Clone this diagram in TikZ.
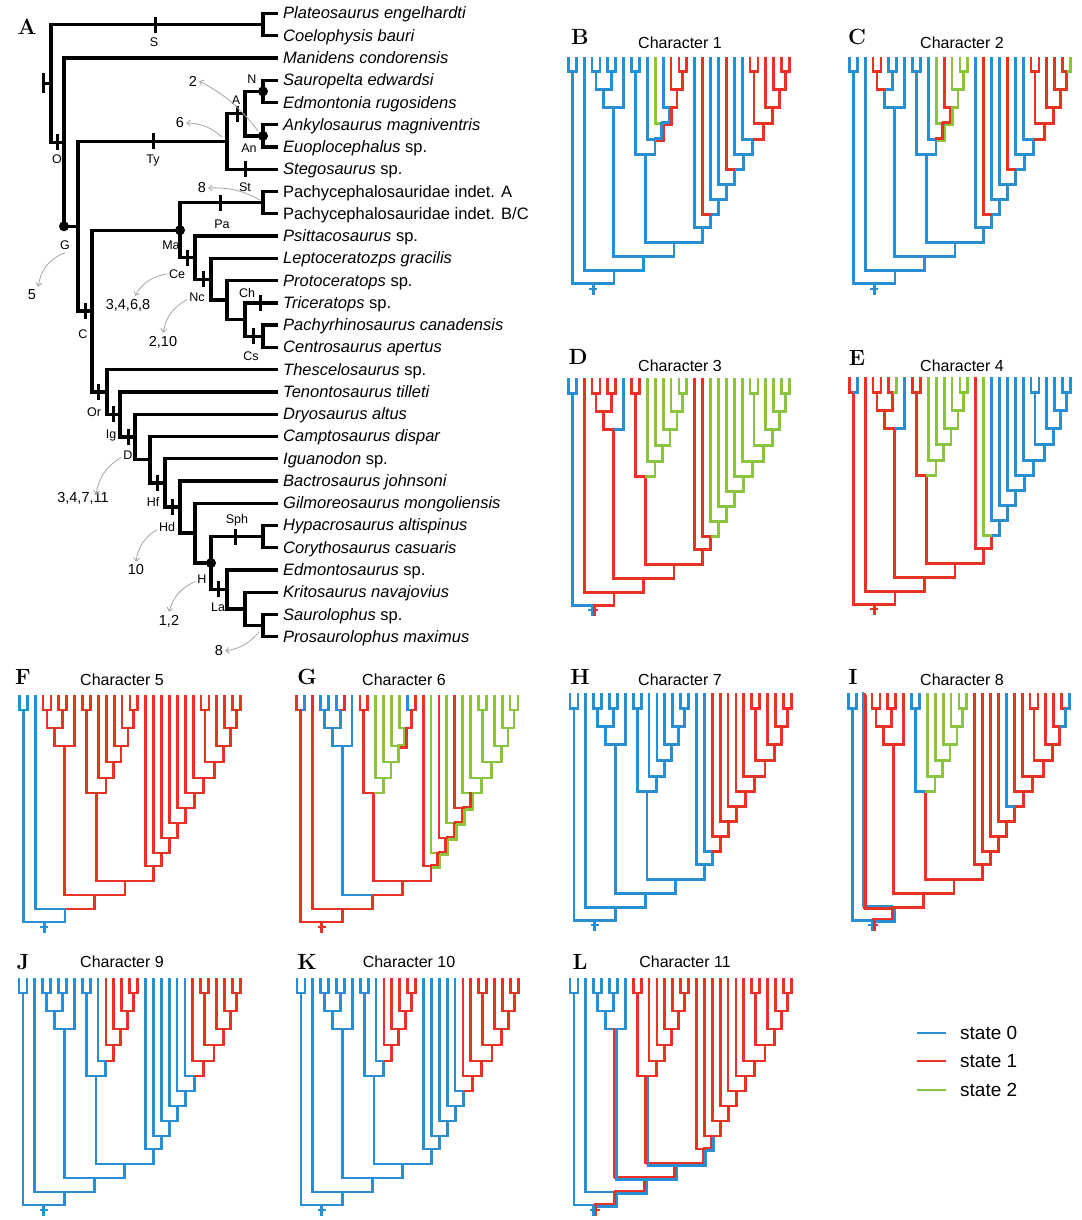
\documentclass[tikz,border=0pt]{standalone}
\usepackage{fontspec}
\newfontfamily\lsans{Liberation Sans}
\usetikzlibrary{arrows.meta}
\definecolor{cbl}{RGB}{41,143,211}
\definecolor{crd}{RGB}{232,50,38}
\definecolor{cgr}{RGB}{139,196,63}
\definecolor{agray}{RGB}{165,165,165}
\tikzset{
 tl/.style={line width=2.8pt},
 cb/.style={draw=cbl}, cr/.style={draw=crd}, cg/.style={draw=cgr},
 ta/.style={line width=3.3pt, draw=black},
 tick/.style={line width=3pt, draw=black},
 taxon/.style={anchor=base west, inner sep=0pt, font=\lsans\fontsize{16.5}{18}\selectfont},
 clab/.style={inner sep=0pt, font=\lsans\fontsize{12.5}{13}\selectfont},
 num/.style={inner sep=0pt, font=\lsans\fontsize{14.5}{15}\selectfont},
 ann/.style={draw=agray, line width=0.8pt, -{Straight Barb[length=3.5pt,width=6pt]}},
 plet/.style={inner sep=0pt, font=\bfseries\fontsize{22}{22}\selectfont},
 ctitle/.style={inner sep=0pt, font=\lsans\fontsize{16}{17}\selectfont},
 dotn/.style={circle, fill=black, inner sep=0pt, minimum size=10pt},
 legt/.style={anchor=west, inner sep=0pt, font=\lsans\fontsize{19}{20}\selectfont},
}
\def\defn#1#2#3#4{\expandafter\def\csname zU#1\endcsname{#2}\expandafter\def\csname zD#1\endcsname{#3}\expandafter\def\csname zP#1\endcsname{#4}}
\defn{t1}{1}{0}{Sa}\defn{t2}{2}{0}{Sa}\defn{t3}{3}{0}{O}\defn{t4}{4}{0}{Nod}\defn{t5}{5}{0}{Nod}
\defn{t6}{6}{0}{Ank}\defn{t7}{7}{0}{Ank}\defn{t8}{8}{0}{Ty}\defn{t9}{9}{0}{Pa}\defn{t10}{10}{0}{Pa}
\defn{t11}{11}{0}{Ce}\defn{t12}{12}{0}{Nc}\defn{t13}{13}{0}{Cx}\defn{t14}{14}{0}{Ch}\defn{t15}{15}{0}{Cs}
\defn{t16}{16}{0}{Cs}\defn{t17}{17}{0}{Or}\defn{t18}{18}{0}{Ig}\defn{t19}{19}{0}{D}\defn{t20}{20}{0}{Ne}
\defn{t21}{21}{0}{Hf}\defn{t22}{22}{0}{Hd}\defn{t23}{23}{0}{Gi}\defn{t24}{24}{0}{Lam}\defn{t25}{25}{0}{Lam}
\defn{t26}{26}{0}{La}\defn{t27}{27}{0}{K}\defn{t28}{28}{0}{Sl}\defn{t29}{29}{0}{Sl}
\defn{Sa}{1.5}{15}{R}\defn{O}{6.78}{214}{R}\defn{G}{10.5599}{200}{O}\defn{Ty}{6.75}{51}{G}
\defn{C}{14.3699}{186}{G}\defn{Anky}{5.5}{33}{Ty}\defn{Nod}{4.5}{15}{Anky}\defn{Ank}{6.5}{15}{Anky}
\defn{Ma}{10.7344}{98}{C}\defn{Or}{18.0054}{171}{C}\defn{Pa}{9.5}{15}{Ma}\defn{Ce}{11.9688}{83}{Ma}
\defn{Nc}{12.9375}{67}{Ce}\defn{Cx}{13.875}{51}{Nc}\defn{Ch}{14.75}{33}{Cx}\defn{Cs}{15.5}{15}{Ch}
\defn{Ig}{19.0107}{158}{Or}\defn{D}{20.0215}{143}{Ig}\defn{Ne}{21.043}{128}{D}\defn{Hf}{22.0859}{113}{Ne}
\defn{Hd}{23.1719}{98}{Hf}\defn{Gi}{24.3438}{83}{Hd}\defn{H}{25.6875}{67}{Gi}\defn{Lam}{24.5}{15}{H}
\defn{La}{26.875}{51}{H}\defn{K}{27.75}{33}{La}\defn{Sl}{28.5}{15}{K}\defn{R}{4.14}{227}{R}
\def\alledges{t1,t2,t3,t4,t5,t6,t7,t8,t9,t10,t11,t12,t13,t14,t15,t16,t17,t18,t19,t20,t21,t22,t23,t24,t25,t26,t27,t28,t29,Sa,O,G,Ty,C,Anky,Nod,Ank,Ma,Or,Pa,Ce,Nc,Cx,Ch,Cs,Ig,D,Ne,Hf,Hd,Gi,H,Lam,La,K,Sl}
\def\allnodes{t1,t2,t3,t4,t5,t6,t7,t8,t9,t10,t11,t12,t13,t14,t15,t16,t17,t18,t19,t20,t21,t22,t23,t24,t25,t26,t27,t28,t29,Sa,O,G,Ty,C,Anky,Nod,Ank,Ma,Or,Pa,Ce,Nc,Cx,Ch,Cs,Ig,D,Ne,Hf,Hd,Gi,H,Lam,La,K,Sl,R}
\def\CeSub{Ce,Nc,Cx,Ch,Cs,t11,t12,t13,t14,t15,t16}
\def\NcSub{Nc,Cx,Ch,Cs,t12,t13,t14,t15,t16}
\def\DSub{D,Ne,Hf,Hd,Gi,H,Lam,La,K,Sl,t19,t20,t21,t22,t23,t24,t25,t26,t27,t28,t29}
\def\HdSub{Hd,Gi,H,Lam,La,K,Sl,t22,t23,t24,t25,t26,t27,t28,t29}
\def\GiSub{Gi,H,Lam,La,K,Sl,t23,t24,t25,t26,t27,t28,t29}
\def\HSub{H,Lam,La,K,Sl,t24,t25,t26,t27,t28,t29}
\newcommand\br[3]{\edef\pp{\csname zP#2\endcsname}\draw[tl,#3] (#1-#2) |- (#1-\pp);}
\newcommand\panel[4]{%
  \foreach \n in \allnodes {\coordinate (#1-\n) at ({#2+7.9*(\csname zU\n\endcsname-1)},{#3+\csname zD\n\endcsname});}
  \foreach \e in \alledges {\br{#1}{\e}{#4}}}
\newcommand\paint[3]{\foreach \e in #2 {\br{#1}{\e}{#3}}}
\newcommand\dbl[4]{\edef\pp{\csname zP#2\endcsname}%
  \draw[tl,line width=2.5pt,#3,transform canvas={shift={(-1.25pt,1.25pt)}}] (#1-#2) |- (#1-\pp);
  \draw[tl,line width=2.5pt,#4,transform canvas={shift={(1.25pt,-1.25pt)}}] (#1-#2) |- (#1-\pp);}
\newcommand\dbls[4]{\foreach \e in #2 {\dbl{#1}{\e}{#3}{#4}}}
\newcommand\stub[2]{\draw[tl,#2] (#1-R) -- ++(0,11); \draw[tl,#2,line width=2pt] ([shift={(-4,5)}]#1-R) -- ++(8,0);}
\newcommand\dstub[3]{\draw[tl,line width=2.5pt,#2] ([xshift=-1.25pt]#1-R) -- ++(0,11); \draw[tl,line width=2.5pt,#3] ([xshift=1.25pt]#1-R) -- ++(0,11);
  \draw[tl,#2,line width=2pt] ([shift={(-5,5)}]#1-R) -- ++(5,0); \draw[tl,#3,line width=2pt] ([shift={(0,5)}]#1-R) -- ++(5,0);}
\newcommand\tk[3]{\coordinate (tk#1) at (A-#2 -| #3,0); \draw[tick] ([yshift=8pt]tk#1) -- ([yshift=-8pt]tk#1);}
\begin{document}
\begin{tikzpicture}[x=1pt,y=-1pt]
\useasboundingbox (0,0) rectangle (1081,1220);
% ================= Panel A =================
\foreach \n in \allnodes {\coordinate (A-\n) at ({278-\csname zD\n\endcsname},{13.5+22.26*(\csname zU\n\endcsname-1)});}
\foreach \e in \alledges {\edef\pp{\csname zP\e\endcsname}\draw[ta] (A-\e) -| (A-\pp);}
\coordinate (A-rs) at ([xshift=-8pt]A-R);
\draw[ta] (A-R) -- (A-rs);
\draw[tick] ([yshift=10pt]A-rs) -- ([yshift=-10pt]A-rs);
\node[dotn] (dG) at (A-G -| A-O) {};
\node[dotn] (dN) at (A-Nod) {};
\node[dotn] (dAn) at (A-Ank) {};
\node[dotn] (dMa) at (A-Ma) {};
\node[dotn] (dH) at (A-H) {};
\tk{S}{Sa}{155}\tk{O}{O}{57}\tk{Ty}{Ty}{153}\tk{A}{Anky}{237}\tk{St}{t8}{245}
\tk{Pa}{Pa}{220}\tk{Ce}{Ce}{187}\tk{Nc}{Nc}{203}\tk{Ch}{t14}{260}\tk{Cs}{Cs}{253}
\tk{C}{C}{85}\tk{Or}{Or}{98}\tk{Ig}{Ig}{113}\tk{D}{D}{128}\tk{Hf}{Hf}{157}\tk{Hd}{Hd}{172}
\tk{Sph}{Lam}{235}\tk{La}{La}{218}
% clade labels
\node[clab] (lS) at (154,42) {S};
\node[clab] (lO) at (57,159) {O};
\node[clab] (lG) at (65,245) {G};
\node[clab] (lTy) at (153,160) {Ty};
\node[clab] (lA) at (236,100) {A};
\node[clab] (lN) at (252,79) {N};
\node[clab] (lAn) at (249,148) {An};
\node[clab] (lSt) at (245,187) {St};
\node[clab] (lPa) at (222,224) {Pa};
\node[clab] (lMa) at (171,245) {Ma};
\node[clab] (lCe) at (177,274) {Ce};
\node[clab] (lNc) at (197,297) {Nc};
\node[clab] (lCh) at (247,293) {Ch};
\node[clab] (lCs) at (251,356) {Cs};
\node[clab] (lC) at (83,334) {C};
\node[clab] (lOr) at (94,412) {Or};
\node[clab] (lIg) at (111,435) {Ig};
\node[clab] (lD) at (128,455) {D};
\node[clab] (lHf) at (153,502) {Hf};
\node[clab] (lHd) at (167,527) {Hd};
\node[clab] (lSph) at (237,520) {Sph};
\node[clab] (lH) at (202,579) {H};
\node[clab] (lLa) at (218,607) {La};
% taxa
\node[taxon] (x1) at ([xshift=5pt,yshift=-5.5pt]A-t1) {\itshape Plateosaurus engelhardti};
\node[taxon] (x2) at ([xshift=5pt,yshift=-5.5pt]A-t2) {\itshape Coelophysis bauri};
\node[taxon] (x3) at ([xshift=5pt,yshift=-5.5pt]A-t3) {\itshape Manidens condorensis};
\node[taxon] (x4) at ([xshift=5pt,yshift=-5.5pt]A-t4) {\itshape Sauropelta edwardsi};
\node[taxon] (x5) at ([xshift=5pt,yshift=-5.5pt]A-t5) {\itshape Edmontonia rugosidens};
\node[taxon] (x6) at ([xshift=5pt,yshift=-5.5pt]A-t6) {\itshape Ankylosaurus magniventris};
\node[taxon] (x7) at ([xshift=5pt,yshift=-5.5pt]A-t7) {\textit{Euoplocephalus} sp.};
\node[taxon] (x8) at ([xshift=5pt,yshift=-5.5pt]A-t8) {\textit{Stegosaurus} sp.};
\node[taxon] (x9) at ([xshift=5pt,yshift=-5.5pt]A-t9) {Pachycephalosauridae indet. A};
\node[taxon] (x10) at ([xshift=5pt,yshift=-5.5pt]A-t10) {Pachycephalosauridae indet. B/C};
\node[taxon] (x11) at ([xshift=5pt,yshift=-5.5pt]A-t11) {\textit{Psittacosaurus} sp.};
\node[taxon] (x12) at ([xshift=5pt,yshift=-5.5pt]A-t12) {\itshape Leptoceratozps gracilis};
\node[taxon] (x13) at ([xshift=5pt,yshift=-5.5pt]A-t13) {\textit{Protoceratops} sp.};
\node[taxon] (x14) at ([xshift=5pt,yshift=-5.5pt]A-t14) {\textit{Triceratops} sp.};
\node[taxon] (x15) at ([xshift=5pt,yshift=-5.5pt]A-t15) {\itshape Pachyrhinosaurus canadensis};
\node[taxon] (x16) at ([xshift=5pt,yshift=-5.5pt]A-t16) {\itshape Centrosaurus apertus};
\node[taxon] (x17) at ([xshift=5pt,yshift=-5.5pt]A-t17) {\textit{Thescelosaurus} sp.};
\node[taxon] (x18) at ([xshift=5pt,yshift=-5.5pt]A-t18) {\itshape Tenontosaurus tilleti};
\node[taxon] (x19) at ([xshift=5pt,yshift=-5.5pt]A-t19) {\itshape Dryosaurus altus};
\node[taxon] (x20) at ([xshift=5pt,yshift=-5.5pt]A-t20) {\itshape Camptosaurus dispar};
\node[taxon] (x21) at ([xshift=5pt,yshift=-5.5pt]A-t21) {\textit{Iguanodon} sp.};
\node[taxon] (x22) at ([xshift=5pt,yshift=-5.5pt]A-t22) {\itshape Bactrosaurus johnsoni};
\node[taxon] (x23) at ([xshift=5pt,yshift=-5.5pt]A-t23) {\itshape Gilmoreosaurus mongoliensis};
\node[taxon] (x24) at ([xshift=5pt,yshift=-5.5pt]A-t24) {\itshape Hypacrosaurus altispinus};
\node[taxon] (x25) at ([xshift=5pt,yshift=-5.5pt]A-t25) {\itshape Corythosaurus casuaris};
\node[taxon] (x26) at ([xshift=5pt,yshift=-5.5pt]A-t26) {\textit{Edmontosaurus} sp.};
\node[taxon] (x27) at ([xshift=5pt,yshift=-5.5pt]A-t27) {\itshape Kritosaurus navajovius};
\node[taxon] (x28) at ([xshift=5pt,yshift=-5.5pt]A-t28) {\textit{Saurolophus} sp.};
\node[taxon] (x29) at ([xshift=5pt,yshift=-5.5pt]A-t29) {\itshape Prosaurolophus maximus};
% numbers and arrows
\node[num] (n2) at (193,81) {2};
\node[num] (n6) at (180,123) {6};
\node[num] (n8a) at (202,188) {8};
\node[num] (n5) at (32,295) {5};
\node[num] (n3468) at (128,305) {3,4,6,8};
\node[num] (n210) at (163,342) {2,10};
\node[num] (n34711) at (83,498) {3,4,7,11};
\node[num] (n10) at (136,570) {10};
\node[num] (n12) at (169,621) {1,2};
\node[num] (n8b) at (219,651) {8};
\coordinate (s2) at (258,131);
\coordinate (s6) at (222,137);
\coordinate (s8a) at (260,200);
\coordinate (s8b) at (259,632);
\draw[ann] (s2) to[bend right=12] ([xshift=2pt]n2.east);
\draw[ann] (s6) to[bend right=20] ([xshift=2pt]n6.east);
\draw[ann] (s8a) to[bend right=15] ([xshift=2pt]n8a.east);
\draw[ann] ([yshift=-3pt]lG.south) to[bend right=30] ([shift={(2,-3)}]n5.north east);
\draw[ann] ([xshift=-2pt]lCe.west) to[bend right=25] ([shift={(7,-3)}]n3468.north);
\draw[ann] ([shift={(-2,-2)}]lNc.south west) to[bend right=25] ([yshift=3pt]n210.north);
\draw[ann] ([shift={(-2,-2)}]lD.south west) to[bend right=25] ([shift={(13,3)}]n34711.north);
\draw[ann] ([shift={(-2,-2)}]lHd.south west) to[bend right=25] ([yshift=3pt]n10.north);
\draw[ann] ([shift={(-2,-2)}]lH.south west) to[bend right=25] ([yshift=3pt]n12.north);
\draw[ann] (s8b) to[bend left=20] ([xshift=2pt]n8b.east);
\node[plet] (pA) at (27,27) {A};
% ================= small panels =================
% B  Character 1
\panel{B}{568.3}{56.7}{cb}
\paint{B}{{t12}}{cg}
\paint{B}{{t14,t15,t16,Cs,Ch,t18,t21}}{cr}
\paint{B}{\HSub}{cr}
\dbls{B}{{Cx,Nc}}{cb}{cr}
\stub{B}{cb}
% C  Character 2
\panel{C}{849.3}{56.7}{cb}
\paint{C}{{Nod,t4,t5,t13,t18,t21}}{cr}
\paint{C}{{t12,t14,t15,t16,Cs,Ch}}{cg}
\paint{C}{\HSub}{cr}
\paint{C}{{t29}}{cg}
\dbls{C}{{Cx,Nc}}{cr}{cg}
\stub{C}{cb}
% D  Character 3
\panel{D}{568.3}{378.3}{cr}
\paint{D}{{t1,t2,Sa,t8}}{cb}
\paint{D}{\CeSub}{cg}
\paint{D}{\DSub}{cg}
\dstub{D}{cb}{cr}
% E  Character 4
\panel{E}{849.3}{377.3}{cr}
\paint{E}{{t2,t8}}{cb}
\paint{E}{\DSub}{cb}
\paint{E}{\CeSub}{cg}
\paint{E}{{t7,t18}}{cg}
\stub{E}{cr}
% F  Character 5
\panel{F}{19.3}{695}{cr}
\paint{F}{{t1,t2,Sa,t3,O}}{cb}
\stub{F}{cb}
% G  Character 6
\panel{G}{296.7}{695}{cr}
\paint{G}{{t2,t4,t5,Nod,t6,Ank,Anky,t8,Ty}}{cb}
\paint{G}{\CeSub}{cg}
\paint{G}{{t15}}{cb}
\paint{G}{{t16,Cs}}{cr}
\paint{G}{{t18,t20,t22}}{cg}
\paint{G}{\GiSub}{cg}
\dbls{G}{{Ch}}{cg}{cr}
\dbls{G}{{Ig,D,Ne,Hf,Hd}}{cr}{cg}
\stub{G}{cr}
% H  Character 7
\panel{H}{570}{693.3}{cb}
\paint{H}{\DSub}{cr}
\stub{H}{cb}
% I  Character 8
\panel{I}{848.3}{693.3}{cr}
\paint{I}{{t1,t2,Sa,t9,t10,Pa,t21,t29,Sl}}{cb}
\paint{I}{\CeSub}{cg}
\dbl{I}{t3}{cb}{cr}
\dbl{I}{O}{cr}{cb}
\dstub{I}{cb}{cr}
% J  Character 9
\panel{J}{19}{978}{cb}
\paint{J}{\NcSub}{cr}
\paint{J}{\GiSub}{cr}
\stub{J}{cb}
% K  Character 10
\panel{K}{297}{978}{cb}
\paint{K}{\NcSub}{cr}
\paint{K}{\HdSub}{cr}
\stub{K}{cb}
% L  Character 11
\panel{L}{570}{978}{cr}
\paint{L}{{t1,t2,Sa,t3,t4,t5,Nod,t6,t7,Ank,Anky,t8}}{cb}
\dbls{L}{{O,G,Ty,C,Ma,Or,Ig}}{cr}{cb}
\dstub{L}{cb}{cr}
% titles and letters
\node[plet] (pB) at (580,37) {B};
\node[plet] (pC) at (857,37) {C};
\node[plet] (pD) at (578,357) {D};
\node[plet] (pE) at (857,358) {E};
\node[plet] (pF) at (23,677) {F};
\node[plet] (pG) at (307,677) {G};
\node[plet] (pH) at (580,677) {H};
\node[plet] (pI) at (853,677) {I};
\node[plet] (pJ) at (23,962) {J};
\node[plet] (pK) at (307,962) {K};
\node[plet] (pL) at (580,962) {L};
\node[ctitle] (cB) at (680,43) {Character 1};
\node[ctitle] (cC) at (962,43) {Character 2};
\node[ctitle] (cD) at (680,366) {Character 3};
\node[ctitle] (cE) at (962,366) {Character 4};
\node[ctitle] (cF) at (122,680) {Character 5};
\node[ctitle] (cG) at (404,680) {Character 6};
\node[ctitle] (cH) at (680,680) {Character 7};
\node[ctitle] (cI) at (962,680) {Character 8};
\node[ctitle] (cJ) at (122,962) {Character 9};
\node[ctitle] (cK) at (409,962) {Character 10};
\node[ctitle] (cL) at (685,962) {Character 11};
% legend
\coordinate (lg0) at (917,1033);
\coordinate (lg1) at (917,1061);
\coordinate (lg2) at (917,1090);
\draw[tl,cb] (lg0) -- ++(29,0);
\draw[tl,cr] (lg1) -- ++(29,0);
\draw[tl,cg] (lg2) -- ++(29,0);
\node[legt] (st0) at (960,1033) {state 0};
\node[legt] (st1) at (960,1061) {state 1};
\node[legt] (st2) at (960,1090) {state 2};
\end{tikzpicture}
\end{document}
